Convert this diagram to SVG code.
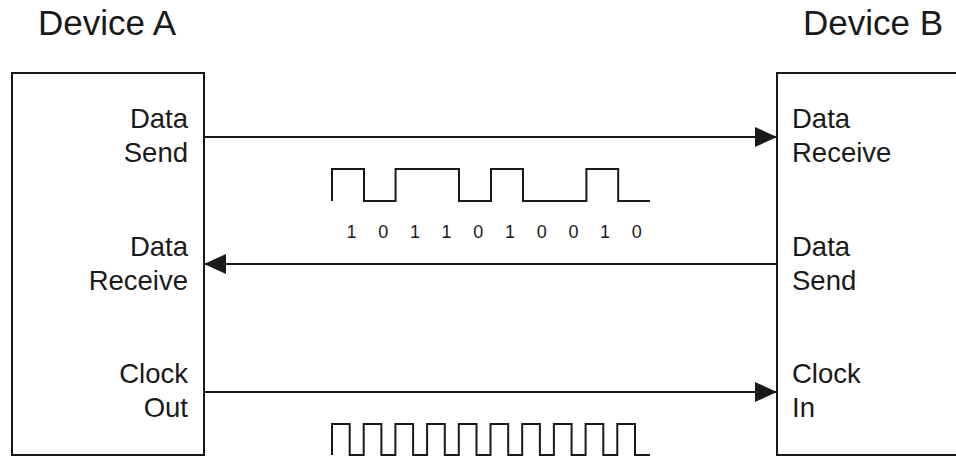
<svg xmlns="http://www.w3.org/2000/svg" width="956" height="457" viewBox="0 0 956 457">
  <defs>
    <marker id="arrow" viewBox="0 0 22 20" refX="22" refY="10" markerWidth="22" markerHeight="20" markerUnits="userSpaceOnUse" orient="auto">
      <path d="M0,0 L22,10 L0,20 Z" fill="#1a1a1a"/>
    </marker>
    <style>
      .box { fill: #fff; stroke: #1a1a1a; stroke-width: 2; }
      .wire { fill: none; stroke: #1a1a1a; stroke-width: 2; }
      .wave { fill: none; stroke: #1a1a1a; stroke-width: 2; stroke-linejoin: miter; }
      .title { font-family: "Liberation Sans", Arial, sans-serif; font-size: 35px; fill: #1a1a1a; }
      .lbl { font-family: "Liberation Sans", Arial, sans-serif; font-size: 27.5px; fill: #1a1a1a; }
      .bit { font-family: "Liberation Sans", Arial, sans-serif; font-size: 18px; fill: #1a1a1a; text-anchor: middle; }
      .r { text-anchor: end; }
    </style>
  </defs>
  <rect width="956" height="457" fill="#fff"/>

  <!-- Device A -->
  <g id="deviceA">
    <text class="title" x="38" y="35">Device A</text>
    <rect class="box" x="12" y="73" width="192" height="382"/>
    <text class="lbl r" x="188" y="128">Data</text>
    <text class="lbl r" x="188" y="162">Send</text>
    <text class="lbl r" x="188" y="256">Data</text>
    <text class="lbl r" x="188" y="290">Receive</text>
    <text class="lbl r" x="188" y="383">Clock</text>
    <text class="lbl r" x="188" y="417">Out</text>
  </g>

  <!-- Device B -->
  <g id="deviceB">
    <text class="title" x="803" y="35">Device B</text>
    <rect class="box" x="777" y="73" width="190" height="382"/>
    <text class="lbl" x="792" y="128">Data</text>
    <text class="lbl" x="792" y="162">Receive</text>
    <text class="lbl" x="792" y="256">Data</text>
    <text class="lbl" x="792" y="290">Send</text>
    <text class="lbl" x="792" y="383">Clock</text>
    <text class="lbl" x="792" y="417">In</text>
  </g>

  <!-- Connectors -->
  <g id="connectors">
    <line class="wire" x1="204" y1="137" x2="777" y2="137" marker-end="url(#arrow)"/>
    <line class="wire" x1="777" y1="264" x2="204" y2="264" marker-end="url(#arrow)"/>
    <line class="wire" x1="204" y1="392" x2="777" y2="392" marker-end="url(#arrow)"/>
  </g>

  <!-- Serial data waveform: 1 0 1 1 0 1 0 0 1 0 -->
  <g id="dataWave">
    <path class="wave" d="M332,201 V169 H364 V201 H395.6 V169 H459 V201 H491 V169 H523 V201 H586.4 V169 H618.2 V201 H650"/>
    <text class="bit" x="351.5" y="238">1</text>
    <text class="bit" x="383.2" y="238">0</text>
    <text class="bit" x="414.9" y="238">1</text>
    <text class="bit" x="446.6" y="238">1</text>
    <text class="bit" x="478.3" y="238">0</text>
    <text class="bit" x="510" y="238">1</text>
    <text class="bit" x="541.7" y="238">0</text>
    <text class="bit" x="573.4" y="238">0</text>
    <text class="bit" x="605.1" y="238">1</text>
    <text class="bit" x="636.8" y="238">0</text>
  </g>

  <!-- Clock waveform -->
  <g id="clockWave">
    <path class="wave" d="M332,455 V424 H349.7 V455 H363.7 V424 H381.4 V455 H395.4 V424 H413.1 V455 H427.1 V424 H444.8 V455 H458.8 V424 H476.5 V455 H490.5 V424 H508.2 V455 H522.2 V424 H539.9 V455 H553.9 V424 H571.6 V455 H585.6 V424 H603.3 V455 H617.3 V424 H635 V455 H650"/>
  </g>
</svg>
